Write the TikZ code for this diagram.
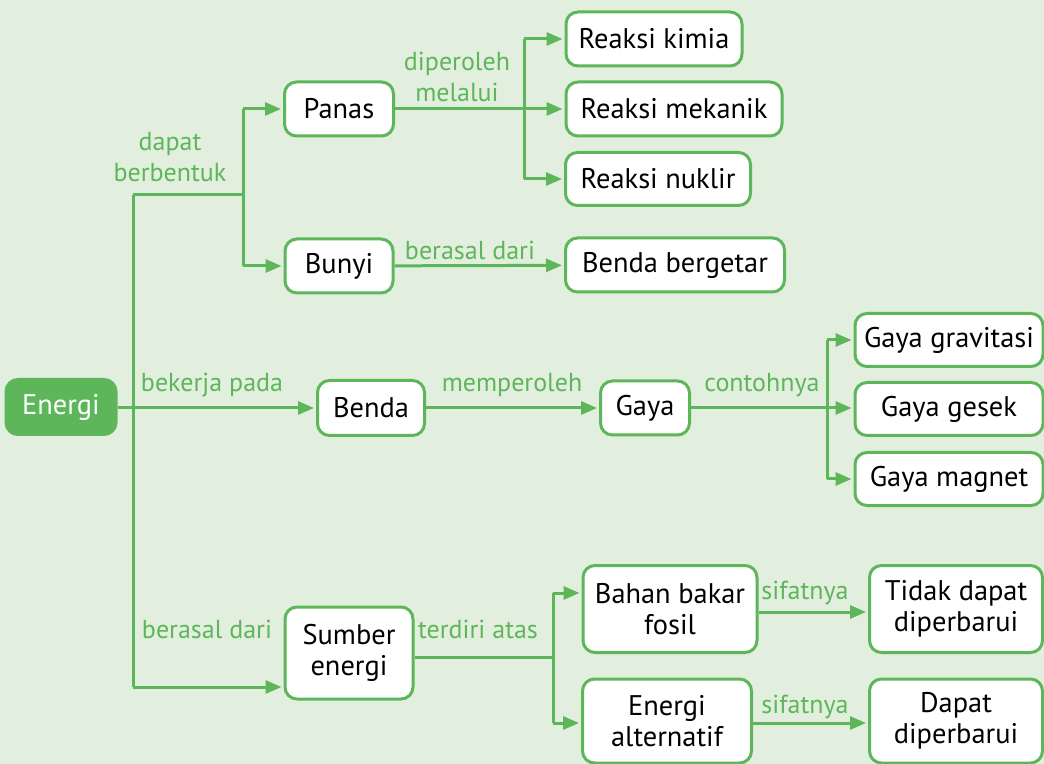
\documentclass[tikz,border=0pt]{standalone}
\usepackage{fontspec}
\setmainfont{PT Sans}
\usetikzlibrary{arrows.meta}
\definecolor{leafgreen}{RGB}{94,182,90}
\definecolor{paleleaf}{RGB}{226,239,222}

\tikzset{
  box/.style={draw=leafgreen, line width=1.5pt, fill=white, rounded corners=6pt,
    align=center, inner sep=0pt, font=\fontsize{14.2}{15.5}\selectfont},
  boxdim/.style 2 args={minimum width=#1*0.5pt, minimum height=#2*0.5pt},
  rel/.style={text=leafgreen, align=center, inner sep=0pt, font=\fontsize{13}{15.5}\selectfont},
  wire/.style={draw=leafgreen, line width=1.5pt},
  wirearrow/.style={wire, -{Triangle[length=8pt,width=6.5pt]}, shorten >=1pt},
}

\begin{document}
\begin{tikzpicture}[x=0.5pt, y=-0.5pt]

  \fill[paleleaf] (0,0) rectangle (1044,764);
  \useasboundingbox (0,0) rectangle (1044,764);

  \coordinate (TT) at (133,195);
  \coordinate (TB) at (133,687);
  \coordinate (TR) at (243,195);
  \coordinate (PU) at (243,109);
  \coordinate (PD) at (243,266);
  \coordinate (RU) at (524,39);
  \coordinate (RM) at (524,109);
  \coordinate (RD) at (524,179);
  \coordinate (GU) at (827,340);
  \coordinate (GM) at (827,408);
  \coordinate (GD) at (827,479);
  \coordinate (SM) at (553,657);
  \coordinate (SU) at (553,593);
  \coordinate (SD) at (553,723);

  \node[box, fill=leafgreen, text=white, boxdim={110}{55}] (energi) at (61,407) {Energi};
  \node[box, boxdim={109}{54}] (panas) at (339,109) {Panas};
  \node[box, boxdim={108}{54}] (bunyi) at (339,266) {Bunyi};
  \node[box, boxdim={176}{54}] (kimia) at (654,39) {Reaksi kimia};
  \node[box, boxdim={216}{54}] (mekanik) at (674,109) {Reaksi mekanik};
  \node[box, boxdim={185}{53}] (nuklir) at (658,179) {Reaksi nuklir};
  \node[box, boxdim={219}{54}] (getar) at (675,265) {Benda bergetar};
  \node[box, boxdim={107}{55}] (benda) at (371,408) {Benda};
  \node[box, boxdim={89}{54}] (gaya) at (645,408) {Gaya};
  \node[box, boxdim={188}{53}] (gravitasi) at (949,340) {Gaya gravitasi};
  \node[box, boxdim={188}{53}] (gesek) at (949,409) {Gaya gesek};
  \node[box, boxdim={188}{53}] (magnet) at (949,479) {Gaya magnet};
  \node[box, boxdim={128}{92}] (sumber) at (349,653) {Sumber\\energi};
  \node[box, boxdim={174}{87}] (fosil) at (670,609) {Bahan bakar\\fosil};
  \node[box, boxdim={169}{84}] (alternatif) at (667,721) {Energi\\alternatif};
  \node[box, boxdim={173}{87}] (tidak) at (956,609) {Tidak dapat\\diperbarui};
  \node[box, boxdim={173}{84}] (dapat) at (956,721) {Dapat\\diperbarui};

  \node[rel] (l1) at (170,157) {dapat\\berbentuk};
  \node[rel] (l2) at (457,77) {diperoleh\\melalui};
  \node[rel] (l3) at (470,250) {berasal dari};
  \node[rel] (l4) at (212,385) {bekerja pada};
  \node[rel] (l5) at (512,385) {memperoleh};
  \node[rel] (l6) at (762,385) {contohnya};
  \node[rel] (l7) at (207,629) {berasal dari};
  \node[rel] (l8) at (478,629) {terdiri atas};
  \node[rel] (l9) at (805,593) {sifatnya};
  \node[rel] (l10) at (805,707) {sifatnya};

  % trunk from Energi
  \draw[wire] (TT) -- (TB);
  \draw[wire] (TT) -- (TR);
  \draw[wire] (PU) -- (PD);
  \draw[wirearrow] (PU) -- (PU -| panas.west);
  \draw[wirearrow] (PD) -- (PD -| bunyi.west);
  \draw[wirearrow] (energi.east |- benda) -- (benda);
  \draw[wirearrow] (TB) -- (TB -| sumber.west);

  \draw[wire] (panas.east) -- (RM);
  \draw[wire] (RU) -- (RD);
  \draw[wirearrow] (RU) -- (RU -| kimia.west);
  \draw[wirearrow] (RM) -- (RM -| mekanik.west);
  \draw[wirearrow] (RD) -- (RD -| nuklir.west);
  \draw[wirearrow] (bunyi) -- (getar);

  \draw[wirearrow] (benda) -- (gaya);
  \draw[wire] (gaya.east) -- (GM);
  \draw[wire] (GU) -- (GD);
  \draw[wirearrow] (GU) -- (GU -| gravitasi.west);
  \draw[wirearrow] (GM) -- (GM -| gesek.west);
  \draw[wirearrow] (GD) -- (GD -| magnet.west);

  \draw[wire] (SM -| sumber.east) -- (SM);
  \draw[wire] (SU) -- (SD);
  \draw[wirearrow] (SU) -- (SU -| fosil.west);
  \draw[wirearrow] (SD) -- (SD -| alternatif.west);
  \draw[wirearrow] (fosil.east |- 0,612) -- (tidak.west |- 0,612);
  \draw[wirearrow] (alternatif.east |- SD) -- (dapat.west |- SD);

\end{tikzpicture}
\end{document}
